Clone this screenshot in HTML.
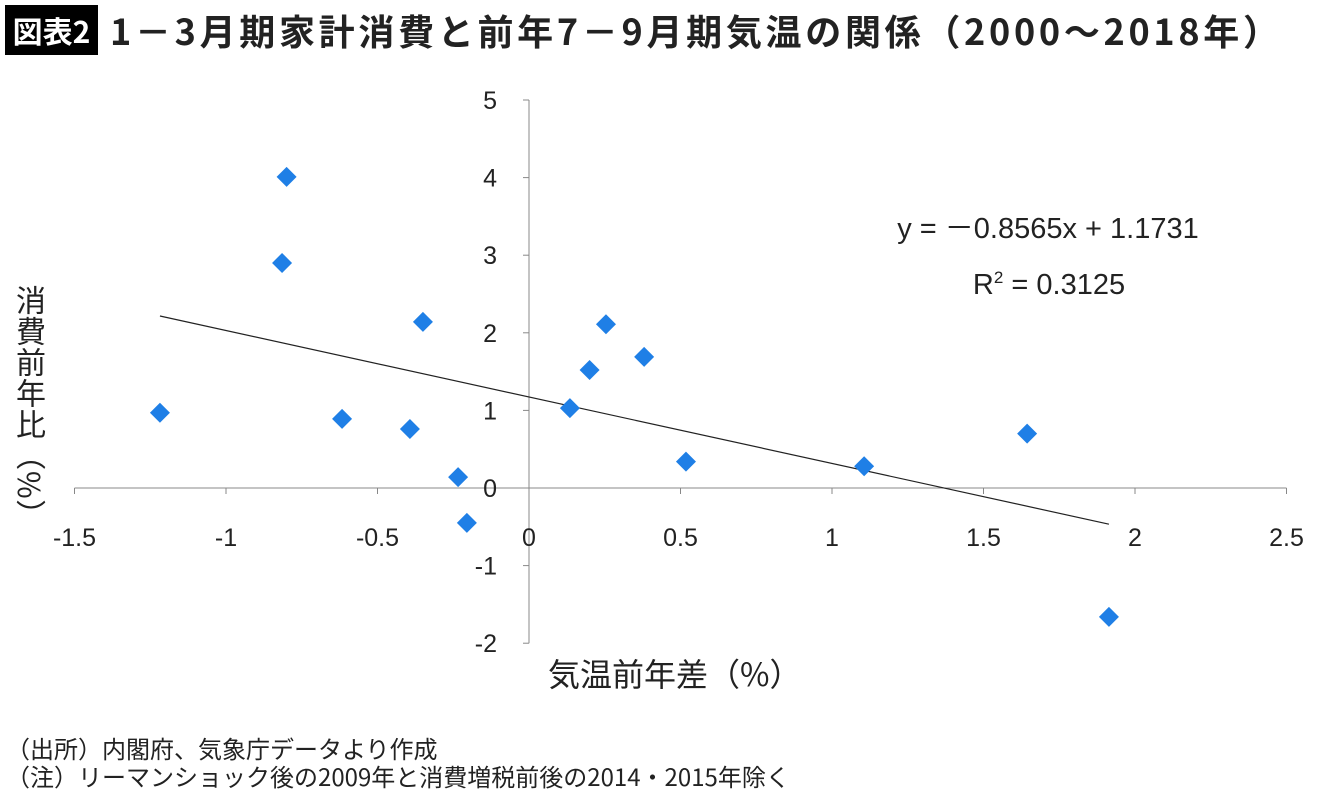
<!DOCTYPE html>
<html><head><meta charset="utf-8"><style>
body{margin:0;width:1340px;height:800px;background:#fff;overflow:hidden;font-family:"Liberation Sans","Noto Sans CJK JP",sans-serif;position:relative;color:#222}
.ab{position:absolute;white-space:nowrap}
</style></head><body>
<div class="ab" style="left:5px;top:5px;width:93px;height:50px;background:#000;color:#fff;font-weight:bold;font-size:30px;line-height:50px;text-align:center;font-family:'Noto Sans CJK JP',sans-serif">図表2</div>
<div class="ab" style="left:110px;top:6px;font-size:36px;font-weight:bold;line-height:48px;font-family:'Noto Sans CJK JP',sans-serif;letter-spacing:3.7px;color:#222">1－3月期家計消費と前年7－9月期気温の関係（2000～2018年）</div>
<svg id="c" class="ab" style="left:0;top:0" width="1340" height="800"></svg>
<div class="ab" style="left:6px;top:733px;font-size:24px;line-height:30px;font-family:'Noto Sans CJK JP',sans-serif">（出所）内閣府、気象庁データより作成</div>
<div class="ab" style="left:6px;top:761px;font-size:24px;line-height:30px;font-family:'Noto Sans CJK JP',sans-serif">（注）リーマンショック後の2009年と消費増税前後の2014・2015年除く</div>
<script>
const xVals=[-1.218,-0.80,-0.815,-0.35,-0.617,-0.393,-0.234,-0.205,0.135,0.20,0.254,0.38,0.518,1.106,1.644,1.914];
const yVals=[0.97,4.01,2.90,2.14,0.89,0.76,0.14,-0.45,1.03,1.52,2.11,1.69,0.34,0.28,0.70,-1.66];
const xTicks=[-1.5,-1,-0.5,0,0.5,1,1.5,2,2.5];
const yTicks=[-2,-1,0,1,2,3,4,5];
const slope=-0.8565, intercept=1.1731;
const NS="http://www.w3.org/2000/svg";
const X=v=>529+v*303, Y=v=>488-v*77.6;
const svg=document.getElementById('c');
function mk(t,a){const e=document.createElementNS(NS,t);for(const k in a)e.setAttribute(k,a[k]);svg.appendChild(e);return e;}
const F="Liberation Sans, Noto Sans CJK JP, sans-serif";
let e=mk('line',{x1:X(-1.5),x2:X(2.5),y1:Y(0),y2:Y(0),stroke:'#888','stroke-width':1});

e=mk('line',{x1:X(0),x2:X(0),y1:Y(5),y2:Y(-2),stroke:'#888','stroke-width':1});

xTicks.forEach(t=>{
 mk('line',{x1:X(t),x2:X(t),y1:Y(0),y2:Y(0)+6,stroke:'#888'});
 e=mk('text',{x:X(t),y:546,'text-anchor':'middle','font-size':25,'font-family':F,fill:'#222'});e.textContent=t;
 
});
yTicks.forEach(t=>{
 mk('line',{x1:X(0)-6,x2:X(0),y1:Y(t),y2:Y(t),stroke:'#888'});
 e=mk('text',{x:X(0)-32,y:Y(t)+9,'text-anchor':'end','font-size':25,'font-family':F,fill:'#222'});e.textContent=t;
 
});
const xmin=Math.min(...xVals),xmax=Math.max(...xVals);
e=mk('line',{x1:X(xmin),y1:Y(slope*xmin+intercept),x2:X(xmax),y2:Y(slope*xmax+intercept),stroke:'#222','stroke-width':1.2});

xVals.forEach((v,i)=>{const cx=X(v),cy=Y(yVals[i]);
 e=mk('polygon',{points:`${cx},${cy-10} ${cx+10},${cy} ${cx},${cy+10} ${cx-10},${cy}`,fill:'#1f7fe6'});
 });
e=mk('text',{x:1048,y:238,'text-anchor':'middle','font-size':29,'font-family':F,fill:'#222'});e.textContent='y = －0.8565x + 1.1731';

e=mk('text',{x:1049,y:294,'text-anchor':'middle','font-size':29,'font-family':F,fill:'#222'});e.innerHTML='R<tspan dy="-11" font-size="17">2</tspan><tspan dy="11"> = 0.3125</tspan>';

e=mk('text',{x:548,y:686,'font-size':32,'font-family':'Noto Sans CJK JP, sans-serif',fill:'#222'});e.textContent='気温前年差（%）';

e=mk('text',{x:31,y:285,'font-size':30,'font-family':'Noto Sans CJK JP, sans-serif',fill:'#222','writing-mode':'tb','glyph-orientation-vertical':0,'letter-spacing':1});e.textContent='消費前年比（%）';

</script>
</body></html>
